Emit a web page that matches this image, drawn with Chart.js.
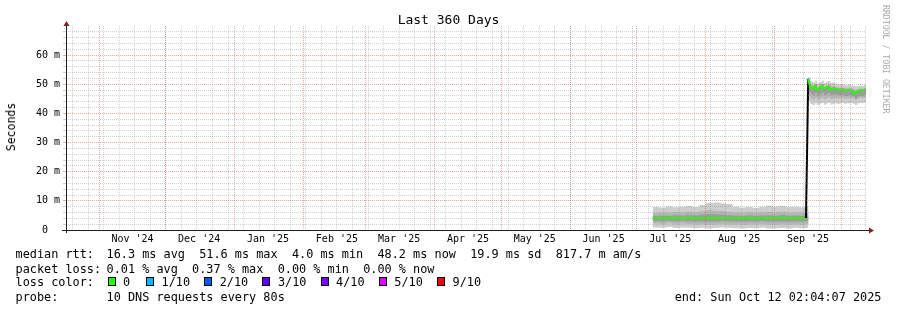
<!DOCTYPE html>
<html>
<head>
<meta charset="utf-8">
<title>Last 360 Days</title>
<script src="https://cdn.jsdelivr.net/npm/chart.js@4.4.1/dist/chart.umd.min.js"></script>
<style>
  body { margin: 0; background: #fff; }
  #wrap { position: relative; width: 897px; height: 310px; overflow: hidden;
          font-family: 'DejaVu Sans Mono', monospace; color: #000; }
  #chart { position: absolute; left: 0; top: 0; }
  .txt { position: absolute; white-space: pre; line-height: 14px; font-size: 11.85px; }
  #title { position: absolute; left: 0; width: 897px; top: 12px; text-align: center;
           font-size: 13px; line-height: 16px; }
  #ylabel { position: absolute; left: 11px; top: 127px; font-size: 11.5px; line-height: 14px;
            transform: translate(-50%, -50%) rotate(-90deg); white-space: pre; }
  #mark { position: absolute; left: 881px; top: 5px; writing-mode: vertical-rl;
          font-size: 8.2px; color: #aaa; white-space: pre; line-height: 10px; }
  .box { position: absolute; width: 8px; height: 9px; box-sizing: border-box; border: 1px solid #000; }
</style>
</head>
<body>
<div id="wrap">
  <canvas id="chart" width="897" height="310"></canvas>
  <div id="title">Last 360 Days</div>
  <div id="ylabel">Seconds</div>
  <div id="mark">RRDTOOL / TOBI OETIKER</div>
  <div id="legend"></div>
</div>
<script>
// window: 360 days ending Sun Oct 12 02:04:07 2025
const WINDOW_START = Date.UTC(2024, 9, 17, 2, 4, 7);
const DAY = 86400000;
const toDay = s => (Date.parse(s + 'T00:00:00Z') - WINDOW_START) / DAY;

const monthStarts = ['2024-11-01', '2024-12-01', '2025-01-01', '2025-02-01', '2025-03-01', '2025-04-01',
                     '2025-05-01', '2025-06-01', '2025-07-01', '2025-08-01', '2025-09-01', '2025-10-01'];
const monthMids = ['2024-11-16', '2024-12-16', '2025-01-16', '2025-02-16', '2025-03-16', '2025-04-16',
                   '2025-05-16', '2025-06-16', '2025-07-16', '2025-08-16', '2025-09-16'];
const monthLabels = ["Nov '24", "Dec '24", "Jan '25", "Feb '25", "Mar '25", "Apr '25",
                     "May '25", "Jun '25", "Jul '25", "Aug '25", "Sep '25"];
const firstSunday = '2024-10-20';

// days since window start
const days = [264, 267, 270, 273, 276, 279, 282, 285, 288, 291, 294, 297, 300, 303, 306, 309, 312, 315, 318, 321, 324, 327, 330, 333,
              334, 335, 336, 337, 338, 339, 340, 341, 342, 343, 344, 345, 346, 347, 348, 349, 350, 351, 352, 353, 354, 355, 356, 357, 358, 359, 360];

// median rtt, ms
const median = [4.1, 4.0, 4.1, 4.2, 4.1, 4.1, 4.2, 4.0, 4.1, 4.2, 4.1, 4.0, 4.1, 4.1, 4.2, 4.1, 4.0, 4.1, 4.1, 4.2, 4.1, 4.1, 4.0, 4.1,
                51.6, 49.0, 48.6, 49.5, 47.9, 48.9, 49.6, 48.3, 48.9, 49.3, 48.1, 48.7, 48.4, 48.2, 48.0, 48.3, 47.9, 47.8, 48.1, 47.9, 47.6, 46.6, 47.5, 47.9, 47.7, 48.0, 48.2];

// smoke: outer, middle and inner ping spread, ms
const smokeHi1 = [7.9, 7.7, 8.1, 7.8, 8.0, 8.2, 7.9, 8.6, 9.3, 9.4, 9.2, 8.9, 8.0, 7.7, 7.9, 7.6, 8.0, 8.3, 8.1, 8.2, 7.9, 8.0, 7.8, 8.2,
                  52.4, 51.0, 50.6, 51.2, 50.3, 50.8, 51.3, 50.5, 50.9, 51.1, 50.4, 50.6, 50.2, 50.0, 49.8, 50.1, 49.7, 49.6, 49.9, 49.7, 49.5, 49.3, 49.4, 49.6, 49.5, 49.7, 49.8];
const smokeLo1 = [0.9, 0.8, 1.0, 0.7, 0.9, 0.8, 0.6, 0.8, 0.5, 0.7, 0.9, 0.8, 0.6, 0.5, 0.7, 0.6, 0.8, 0.5, 0.6, 0.7, 0.5, 0.8, 0.6, 0.7,
                  44.0, 43.2, 42.8, 43.5, 42.9, 43.3, 43.6, 43.0, 43.4, 43.7, 43.1, 43.3, 43.5, 43.2, 43.4, 43.6, 43.3, 43.5, 43.4, 43.6, 43.3, 42.9, 43.4, 43.6, 43.5, 43.7, 43.8];
const smokeHi2 = [5.8, 6.0, 5.9, 6.2, 6.0, 6.3, 6.1, 6.4, 6.8, 6.6, 6.5, 6.2, 6.0, 5.8, 6.1, 5.9, 6.0, 6.2, 6.1, 6.3, 5.9, 6.0, 5.8, 6.1,
                  51.0, 49.8, 49.4, 50.1, 49.1, 49.6, 50.2, 49.3, 49.7, 50.0, 49.2, 49.5, 49.1, 48.9, 48.8, 49.0, 48.7, 48.6, 48.9, 48.7, 48.4, 48.0, 48.3, 48.6, 48.5, 48.7, 48.8];
const smokeLo2 = [2.2, 2.1, 2.3, 2.0, 2.2, 2.1, 1.9, 2.0, 1.8, 1.9, 2.1, 2.0, 1.9, 1.8, 2.0, 1.9, 2.1, 1.8, 1.9, 2.0, 1.8, 2.0, 1.9, 2.0,
                  46.0, 45.0, 44.6, 45.3, 44.5, 45.0, 45.5, 44.8, 45.2, 45.5, 44.9, 45.1, 45.2, 45.0, 45.1, 45.3, 45.0, 45.1, 45.2, 45.2, 45.0, 44.5, 45.0, 45.3, 45.2, 45.4, 45.5];
const smokeHi3 = [4.9, 5.0, 4.9, 5.1, 5.0, 5.2, 5.1, 5.3, 5.5, 5.4, 5.3, 5.1, 5.0, 4.9, 5.1, 4.9, 5.0, 5.1, 5.0, 5.2, 4.9, 5.0, 4.9, 5.0,
                  50.2, 49.5, 49.1, 49.9, 48.6, 49.3, 49.9, 48.8, 49.3, 49.6, 48.7, 49.1, 48.8, 48.6, 48.5, 48.7, 48.3, 48.2, 48.5, 48.3, 48.0, 47.4, 47.9, 48.2, 48.1, 48.4, 48.5];
const smokeLo3 = [3.0, 2.9, 3.1, 2.9, 3.0, 2.9, 2.8, 2.9, 2.8, 2.8, 3.0, 2.9, 2.8, 2.8, 2.9, 2.8, 3.0, 2.8, 2.8, 2.9, 2.8, 2.9, 2.8, 2.9,
                  47.5, 46.8, 46.2, 47.0, 45.9, 46.6, 47.2, 46.3, 46.7, 47.0, 46.2, 46.6, 46.5, 46.3, 46.2, 46.5, 46.1, 46.0, 46.3, 46.1, 45.8, 45.0, 45.7, 46.1, 45.9, 46.2, 46.4];

// samples with packet loss (index into lossLabels)
const lossDays = [305.9, 313.6, 333.8, 346.0];
const lossRtt = [4.0, 4.0, 51.6, 48.4];
const lossLevel = [1, 1, 1, 1];

const lossLabels = ['0', '1/10', '2/10', '3/10', '4/10', '5/10', '9/10'];
const lossColors = ['#26ff00', '#00b8ff', '#0059ff', '#5e00ff', '#7e00ff', '#dd00ff', '#ff0000'];

const FONT = "'DejaVu Sans Mono'";
const GRID = 'rgba(143, 143, 143, 0.4)';
const MGRID = 'rgba(222, 80, 80, 0.5)';

const weekLines = [];
for (let d = toDay(firstSunday); d < 360; d += 7) weekLines.push(d);

const pts = arr => days.map((d, i) => ({ x: d, y: arr[i] }));

function band(lo, hi, color) {
    return [
        { data: pts(lo), borderWidth: 0, pointRadius: 0, stepped: true, fill: false },
        { data: pts(hi), borderWidth: 0, pointRadius: 0, stepped: true, fill: '-1', backgroundColor: color }
    ];
}

// x and y axis lines with rrdtool style arrows
const axisArrows = {
    id: 'axisArrows',
    afterDraw(chart) {
        const { ctx, chartArea: a } = chart;
        const xb = a.bottom + 0.5, yl = a.left + 0.5;
        ctx.save();
        ctx.strokeStyle = '#1f1f1f';
        ctx.lineWidth = 1;
        ctx.beginPath();
        ctx.moveTo(a.left - 4, xb); ctx.lineTo(a.right + 4, xb);
        ctx.moveTo(yl, a.bottom + 3); ctx.lineTo(yl, a.top - 1);
        ctx.stroke();
        ctx.fillStyle = '#7f1f1f';
        ctx.beginPath();
        ctx.moveTo(a.right + 3, xb - 3); ctx.lineTo(a.right + 8, xb); ctx.lineTo(a.right + 3, xb + 3);
        ctx.closePath(); ctx.fill();
        ctx.beginPath();
        ctx.moveTo(yl - 3, a.top); ctx.lineTo(yl, a.top - 5); ctx.lineTo(yl + 3, a.top);
        ctx.closePath(); ctx.fill();
        ctx.restore();
    }
};

new Chart(document.getElementById('chart').getContext('2d'), {
    type: 'line',
    data: {
        datasets: [
            {
                data: pts(median),
                borderColor: lossColors[0],
                borderWidth: 2,
                pointRadius: 0,
                fill: false,
                segment: {
                    borderColor: c => Math.abs(c.p1.parsed.y - c.p0.parsed.y) > 20 ? '#000' : lossColors[0]
                }
            },
            {
                type: 'scatter',
                data: lossDays.map((d, i) => ({ x: d, y: lossRtt[i] })),
                showLine: false,
                pointStyle: 'rect',
                pointRadius: 1.4,
                borderWidth: 0,
                backgroundColor: lossLevel.map(l => lossColors[l])
            },
            ...band(smokeLo3, smokeHi3, '#9c9c9c'),
            ...band(smokeLo2, smokeHi2, '#b6b6b6'),
            ...band(smokeLo1, smokeHi1, '#cdcdcd')
        ]
    },
    options: {
        responsive: false,
        animation: false,
        layout: { padding: { left: 0, right: 31, top: 26, bottom: 62 } },
        plugins: { legend: { display: false }, tooltip: { enabled: false }, title: { display: false } },
        scales: {
            x: {
                type: 'linear', min: 0, max: 360, weight: 0,
                afterBuildTicks: axis => { axis.ticks = weekLines.map(v => ({ value: v })); },
                grid: { color: GRID, drawTicks: false, z: 1 },
                border: { display: false, dash: [1, 1] },
                ticks: { display: false }
            },
            xm: {
                type: 'linear', position: 'bottom', min: 0, max: 360, weight: 1,
                afterBuildTicks: axis => { axis.ticks = monthStarts.map(s => ({ value: toDay(s) })); },
                grid: { color: MGRID, drawTicks: false, z: 1 },
                border: { display: false, dash: [1, 1] },
                ticks: { display: false }
            },
            xl: {
                type: 'linear', position: 'bottom', min: 0, max: 360, weight: 2,
                afterBuildTicks: axis => { axis.ticks = monthMids.map(s => ({ value: toDay(s) })); },
                grid: { display: false, drawTicks: false },
                border: { display: false },
                ticks: {
                    autoSkip: false, maxRotation: 0, padding: 3, color: '#000',
                    font: { family: FONT, size: 10 },
                    callback: (v, i) => monthLabels[i]
                }
            },
            y: {
                min: 0, max: 70,
                afterBuildTicks: axis => { axis.ticks = axis.ticks.filter(t => t.value < 70); },
                afterFit: axis => { axis.width = 66; },
                grid: {
                    color: c => c.tick && c.tick.value % 10 === 0 ? MGRID : GRID,
                    tickLength: 3, z: 1
                },
                border: { display: false, dash: [1, 1] },
                ticks: {
                    stepSize: 2, autoSkip: false, padding: 3, color: '#000',
                    font: { family: FONT, size: 10 },
                    callback: v => v === 0 ? '0  ' : (v % 10 === 0 ? v + ' m' : '')
                }
            }
        }
    },
    plugins: [axisArrows]
});

// text legend below the graph
const legend = document.getElementById('legend');
function addText(text, left, center, extra) {
    const el = document.createElement('div');
    el.className = 'txt';
    el.textContent = text;
    el.style.left = left + 'px';
    el.style.top = (center - 7) + 'px';
    if (extra) Object.assign(el.style, extra);
    legend.appendChild(el);
}
addText('median rtt:', 15.5, 254);
addText('16.3 ms avg  51.6 ms max  4.0 ms min  48.2 ms now  19.9 ms sd  817.7 m am/s', 106.5, 254);
addText('packet loss:', 15.5, 268.5);
addText('0.01 % avg  0.37 % max  0.00 % min  0.00 % now', 106.5, 268.5);
addText('loss color:', 15.5, 282);
lossLabels.forEach((label, i) => {
    const left = i === 0 ? 107.5 : 146 + (i - 1) * 58.2;
    const box = document.createElement('div');
    box.className = 'box';
    box.style.left = left + 'px';
    box.style.top = '277px';
    box.style.background = lossColors[i];
    legend.appendChild(box);
    addText(label, left + 15.5, 282);
});
addText('probe:', 15.5, 296.5);
addText('10 DNS requests every 80s', 106.5, 296.5);
addText('end: Sun Oct 12 02:04:07 2025', 0, 296.5, { left: 'auto', right: '15.5px' });
</script>
</body>
</html>
